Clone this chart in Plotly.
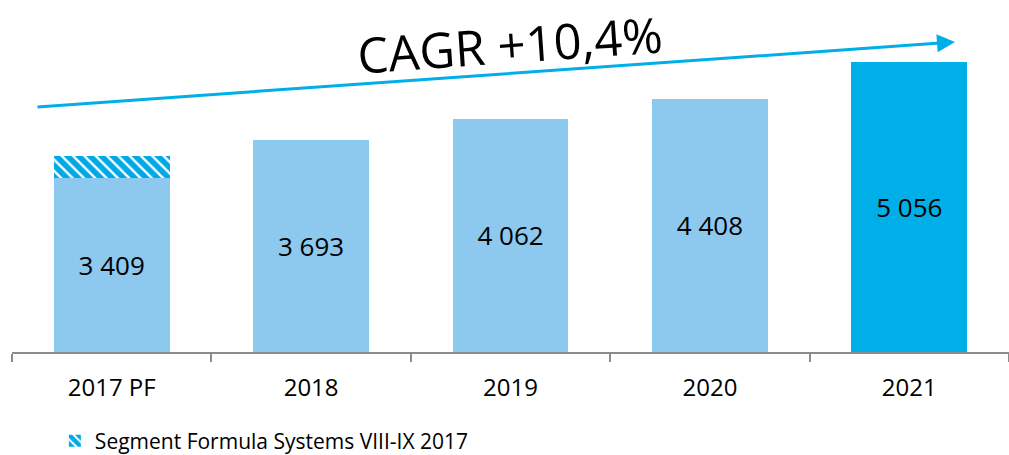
import plotly.graph_objects as go

categories = ["2017 PF", "2018", "2019", "2020", "2021"]
totals = [3409, 3693, 4062, 4408, 5056]
segment_2017 = [379, 0, 0, 0, 0]
base_values = [t - s for t, s in zip(totals, segment_2017)]
labels = ["3 409", "3 693", "4 062", "4 408", "5 056"]
bar_colors = ["#8DC8EE", "#8DC8EE", "#8DC8EE", "#8DC8EE", "#00AEE8"]
legend_label = "Segment Formula Systems VIII-IX 2017"
cagr_text = "CAGR +10,4%"

FONT = "Open Sans"

fig = go.Figure()
fig.add_trace(go.Bar(
    x=categories, y=base_values, marker=dict(color=bar_colors, line=dict(width=0)),
    text=labels, textposition="inside", insidetextanchor="middle",
    textfont=dict(size=26, color="#000000", family=FONT),
    showlegend=False, hoverinfo="skip",
))
fig.add_trace(go.Bar(
    x=categories, y=segment_2017, name=legend_label,
    marker=dict(color="#FFFFFF", line=dict(width=0),
                pattern=dict(shape="\\", fgcolor="#00A9E6", bgcolor="#FFFFFF",
                             fgopacity=1, size=8, solidity=0.7)),
    showlegend=True, hoverinfo="skip",
))

fig.update_layout(
    barmode="stack", bargap=0.42,
    width=1009, height=455,
    margin=dict(l=12, r=0, t=10, b=103),
    paper_bgcolor="white", plot_bgcolor="white",
    font=dict(family=FONT, color="#000000"),
    xaxis=dict(showline=True, linecolor="#8C8C8C", linewidth=1.5,
               ticks="outside", tickson="boundaries", ticklen=8,
               tickcolor="#8C8C8C", tickwidth=1.5, ticklabelstandoff=13,
               tickfont=dict(size=24, color="#000000", family=FONT)),
    yaxis=dict(visible=False, range=[0, 5956]),
    legend=dict(orientation="h", x=0.043, xanchor="left",
                yref="container", y=(455 - 441) / 455, yanchor="middle",
                font=dict(size=21, color="#000000", family=FONT),
                itemwidth=30, bgcolor="rgba(0,0,0,0)"),
    showlegend=True,
)

# CAGR arrow (head at upper right)
fig.add_annotation(
    xref="paper", yref="paper",
    x=(955 - 12) / 997, y=(352 - 42) / 342,
    ax=-919, ay=65, axref="pixel", ayref="pixel",
    showarrow=True, arrowhead=2, arrowsize=1.2, arrowwidth=3,
    arrowcolor="#00AEE8", text="",
)
fig.add_annotation(
    xref="paper", yref="paper",
    x=(510 - 12) / 997, y=(352 - 44) / 342,
    xanchor="center", yanchor="middle",
    text=cagr_text, showarrow=False, textangle=-4,
    font=dict(size=49, color="#000000", family=FONT),
)

fig.write_html("out.html", config={"displayModeBar": False},
               post_script="document.body.style.margin='0';")
